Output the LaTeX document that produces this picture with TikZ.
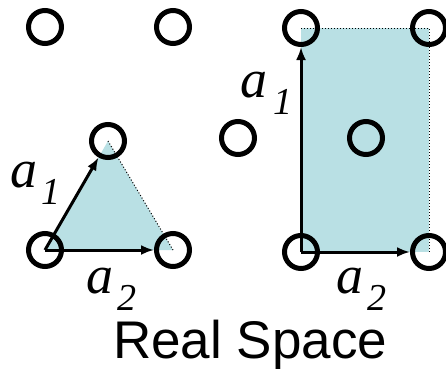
\documentclass[tikz,border=0pt]{standalone}
\usepackage{fontspec}
\setmainfont{Liberation Serif}
\newfontfamily\labelsans{Liberation Sans}
\usetikzlibrary{arrows.meta}
\definecolor{cellfill}{RGB}{185,224,228}
\newcommand{\veclabel}[2]{{\fontsize{54}{54}\selectfont\itshape a\kern#2\raisebox{-17pt}{\fontsize{38}{38}\selectfont #1}}}
\begin{document}
\begin{tikzpicture}[x=1pt, y=-1pt,
  site/.style={draw, circle, line width=5pt, minimum size=33pt, inner sep=0pt},
  vec/.style={line width=3pt, -{Latex[length=13pt,width=10pt]}},
  celledge/.style={dotted, line width=1pt},
  lbl/.style={anchor=base west, inner sep=0pt}]
  \useasboundingbox (0,0) rectangle (446,370);

  % left lattice
  \coordinate (L1) at (45,27);
  \coordinate (L2) at (173,27);
  \coordinate (L3) at (108,141);
  \coordinate (L4) at (45,250);
  \coordinate (L5) at (173,250);
  % right lattice
  \coordinate (R1) at (301,28);
  \coordinate (R2) at (429,28);
  \coordinate (R3) at (238,138);
  \coordinate (R4) at (366,138);
  \coordinate (R5) at (301,252);
  \coordinate (R6) at (429,252);

  \fill[cellfill] (L4) -- (L3) -- (L5) -- cycle;
  \fill[cellfill] (R5) rectangle (R2);
  \draw[celledge] (L3) -- (L5);
  \draw[celledge] (R1) -- (R2) -- (R6);

  \foreach \p in {L1,L2,L3,L4,L5,R1,R2,R3,R4,R5,R6}
    \node[site] (s\p) at (\p) {};

  \draw[vec] (sL4.center) -- (sL3);
  \draw[vec] (sL4.center) -- (sL5);
  \draw[vec] (sR5.center) -- (sR1);
  \draw[vec] (sR5.center) -- (sR6);

  \node[lbl] (a1L) at (10,187) {\veclabel{1}{4pt}};
  \node[lbl] (a2L) at (86,293) {\veclabel{2}{4pt}};
  \node[lbl] (a1R) at (240,97) {\veclabel{1}{6pt}};
  \node[lbl] (a2R) at (336,293) {\veclabel{2}{4pt}};

  \node[lbl] (title) at (113,358) {\labelsans\fontsize{53}{53}\selectfont Real Space};
\end{tikzpicture}
\end{document}
